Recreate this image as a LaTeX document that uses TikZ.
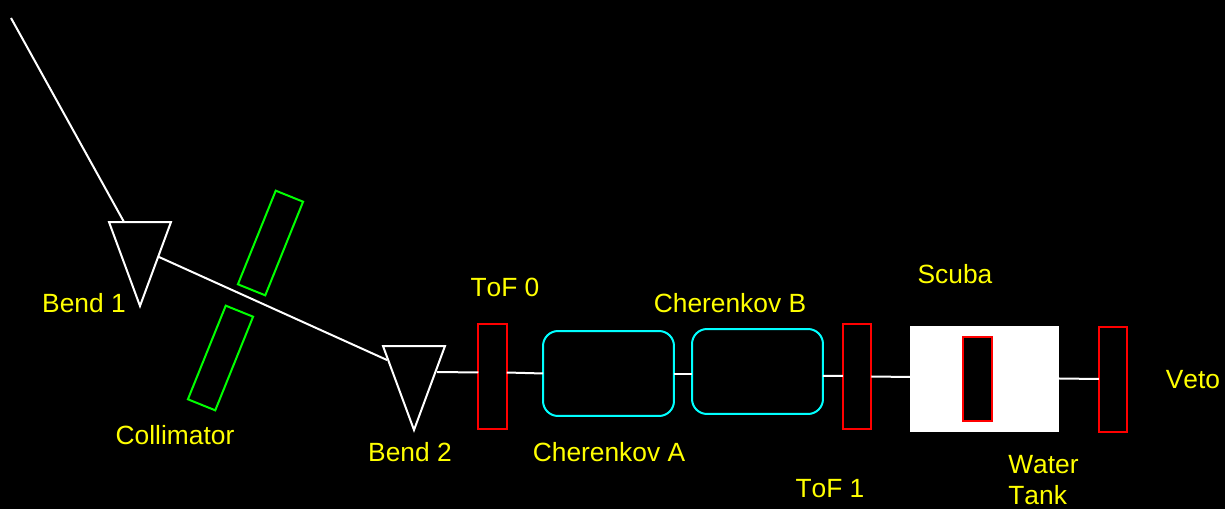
\documentclass[tikz,border=0pt]{standalone}
\usepackage{fontspec}
\setmainfont[Kerning=Off]{Liberation Sans}
\usetikzlibrary{shapes.geometric}
\definecolor{puregreen}{RGB}{0,255,0}
\definecolor{purered}{RGB}{255,0,0}
\definecolor{purecyan}{RGB}{0,255,255}
\definecolor{pureyellow}{RGB}{255,255,0}
\tikzset{
  beam/.style={draw=white,line width=0.04cm},
  magnet/.style={draw=white,line width=0.04cm,isosceles triangle,isosceles triangle stretches,shape border rotate=270,inner sep=0pt,outer sep=0pt,minimum width=1.24cm,minimum height=1.68cm,anchor=apex},
  collim/.style={draw=puregreen,line width=0.04cm,rectangle,inner sep=0pt,outer sep=0pt,minimum width=0.59cm,minimum height=2.02cm,rotate=-22},
  tof/.style={draw=purered,line width=0.04cm,rectangle,inner sep=0pt,outer sep=0pt,minimum width=0.57cm,minimum height=2.1cm},
  cherenkov/.style={draw=purecyan,line width=0.04cm,rectangle,rounded corners=0.3cm,inner sep=0pt,outer sep=0pt,minimum width=2.62cm,minimum height=1.7cm},
  tag/.style={text=pureyellow,font=\fontsize{15}{18.1}\selectfont,inner sep=0pt,anchor=base},
}
\begin{document}
\begin{tikzpicture}[x=0.02cm,y=-0.02cm]
  \fill[black] (0,0) rectangle (1225,509);
  \useasboundingbox (0,0) rectangle (1225,509);
  \coordinate (start) at (11,18);
  \node[magnet] (bendone) at (140,306) {};
  \node[magnet] (bendtwo) at (414,430) {};
  \node[collim] (collimup) at (270.5,243) {};
  \node[collim] (collimdown) at (220.5,358) {};
  \node[tof] (tofzero) at (492.5,376.5) {};
  \node[cherenkov] (cherA) at (608.5,373.5) {};
  \node[cherenkov] (cherB) at (757.5,371.5) {};
  \node[tof] (tofone) at (857,376.5) {};
  \node[draw=white,fill=white,line width=0.02cm,inner sep=0pt,outer sep=0pt,minimum width=2.98cm,minimum height=2.12cm] (scuba) at (984.5,379) {};
  \node[tof,fill=black,minimum height=1.68cm] (tank) at (977.5,379) {};
  \node[tof] (veto) at (1113,379.5) {};
  \draw[beam] (start) -- ([shift={(-16,-84)}]bendone.apex);
  \draw[beam] ([shift={(19,-49)}]bendone.apex) -- ([shift={(-27,-70)}]bendtwo.apex);
  \draw[beam] ([shift={(23,-58)}]bendtwo.apex) -- ([shift={(0,-4)}]tofzero.west);
  \draw[beam] ([shift={(0,-4)}]tofzero.east) -- (cherA.west);
  \draw[beam] ([shift={(0,0.5)}]cherA.east) -- ([shift={(0,2.5)}]cherB.west);
  \draw[beam] ([shift={(0,4.5)}]cherB.east) -- ([shift={(0,-0.5)}]tofone.west);
  \draw[beam] (tofone.east) -- ([shift={(0,-2)}]scuba.west);
  \draw[beam] ([shift={(0,-0.5)}]scuba.east) -- ([shift={(0,-0.5)}]veto.west);
  \node[tag] (bendonetext) at (84,313) {Bend 1};
  \node[tag] (collimtext) at (175,445) {Collimator};
  \node[tag] (bendtwotext) at (410,462) {Bend 2};
  \node[tag] (tofzerotext) at (505,297) {ToF 0};
  \node[tag] (cherBtext) at (730,313) {Cherenkov B};
  \node[tag] (cherAtext) at (609,462) {Cherenkov A};
  \node[tag] (tofonetext) at (830,498) {ToF 1};
  \node[tag] (scubatext) at (955,284) {Scuba};
  \node[tag,align=left,anchor=west] (tanktext) at (1008,480) {Water\\Tank};
  \node[tag] (vetotext) at (1193,389) {Veto};
\end{tikzpicture}
\end{document}
